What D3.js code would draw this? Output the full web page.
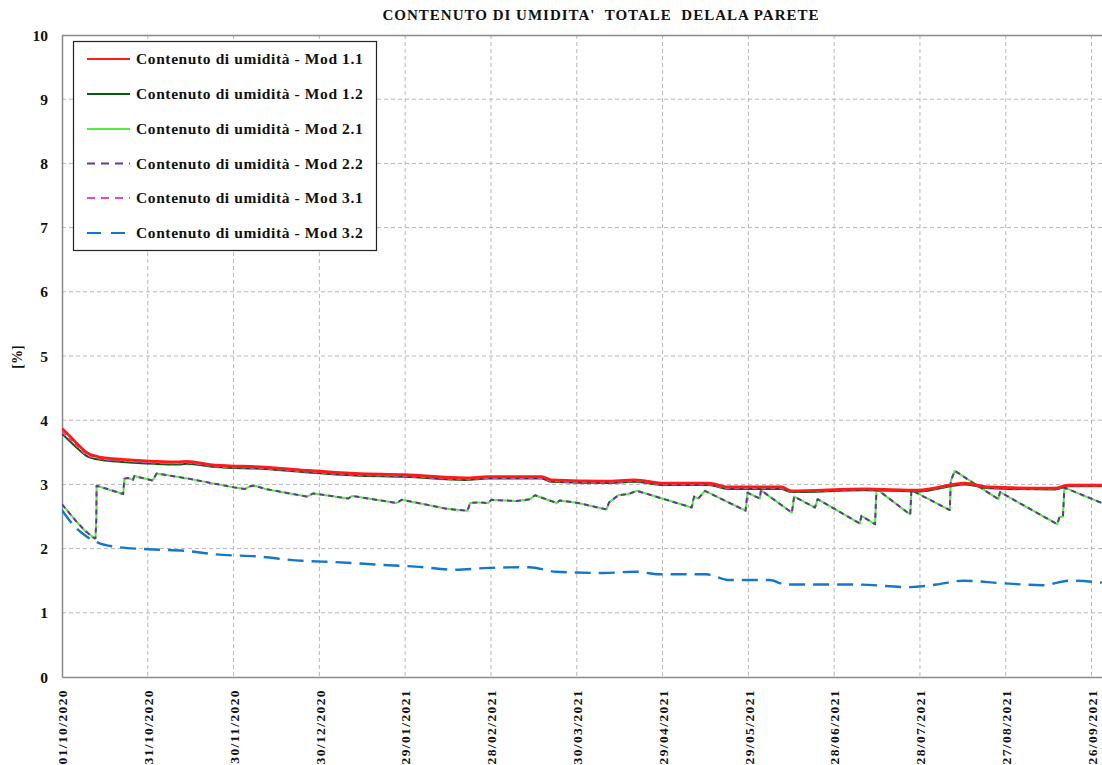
<!DOCTYPE html>
<html>
<head>
<meta charset="utf-8">
<script src="https://cdn.jsdelivr.net/npm/d3@7"></script>
<style>
  html, body { margin: 0; padding: 0; background: #fff; }
  svg { display: block; }
  text { font-family: "Liberation Serif", "Times New Roman", serif; font-weight: bold; fill: #111; }
</style>
</head>
<body>
<svg id="chart" width="1102" height="765"></svg>
<script>
// Days elapsed since 01/10/2020 paired with total moisture content [%]
const mod11 = [[0,3.87],[2.1,3.78],[4.5,3.67],[9.2,3.48],[13.9,3.42],[20.9,3.39],[32.5,3.36],[40.6,3.35],[43.6,3.36],[53.5,3.30],[71,3.27],[85,3.22],[102.4,3.17],[120,3.15],[141,3.10],[149,3.12],[167.7,3.12],[171.2,3.07],[190,3.05],[200.3,3.07],[210.8,3.02],[226,3.02],[233,2.96],[251.6,2.96],[255,2.90],[280.8,2.93],[299.4,2.91],[315.7,3.02],[324,2.96],[347.2,2.94],[351.9,2.99],[363.6,2.99]];

const mod12 = [[0,3.79],[2.1,3.70],[4.5,3.60],[9.2,3.43],[13.9,3.38],[20.9,3.35],[32.5,3.32],[40.6,3.31],[43.6,3.32],[53.5,3.27],[71,3.24],[85,3.19],[102.4,3.14],[120,3.12],[141,3.07],[149,3.09],[167.7,3.09],[171.2,3.04],[190,3.02],[200.3,3.04],[210.8,2.99],[226,2.99],[233,2.93],[251.6,2.93],[255,2.88],[280.8,2.91],[299.4,2.89],[315.7,3.00],[324,2.94],[347.2,2.92],[351.9,2.97],[363.6,2.97]];

const mod21 = [[0,2.69],[4.5,2.45],[8,2.28],[11.3,2.16],[11.7,2.16],[12,2.45],[12.1,2.98],[21.4,2.85],[21.8,3.09],[23,3.10],[24.8,3.07],[25.3,3.13],[31.7,3.06],[33.1,3.17],[44.2,3.09],[60.5,2.95],[64,2.93],[65.7,2.97],[67.5,2.98],[71,2.93],[85.6,2.81],[87.9,2.86],[100.1,2.78],[101.5,2.82],[117,2.71],[118.8,2.76],[134.5,2.62],[141.8,2.59],[142.7,2.71],[145.3,2.72],[149,2.71],[150.2,2.76],[159,2.74],[163.6,2.77],[165.4,2.83],[173,2.71],[174,2.75],[180.5,2.71],[190.4,2.61],[191.3,2.72],[194.5,2.83],[198,2.85],[201,2.90],[220.2,2.64],[221,2.81],[222.5,2.78],[224.8,2.90],[239,2.59],[239.7,2.87],[244,2.78],[244.4,2.91],[255.2,2.56],[256,2.81],[263.3,2.64],[264.2,2.77],[279,2.39],[279.5,2.51],[284.3,2.38],[284.8,2.93],[296.6,2.53],[297,2.91],[310.4,2.60],[310.8,3.06],[312.2,3.21],[327.4,2.77],[328,2.88],[348,2.38],[348.8,2.49],[350,2.50],[350.5,2.95],[363.6,2.71]];

const mod22 = [[0,2.69],[4.5,2.45],[8,2.28],[11.3,2.16],[11.7,2.16],[12,2.45],[12.1,2.98],[21.4,2.85],[21.8,3.09],[23,3.10],[24.8,3.07],[25.3,3.13],[31.7,3.06],[33.1,3.17],[44.2,3.09],[60.5,2.95],[64,2.93],[65.7,2.97],[67.5,2.98],[71,2.93],[85.6,2.81],[87.9,2.86],[100.1,2.78],[101.5,2.82],[117,2.71],[118.8,2.76],[134.5,2.62],[141.8,2.59],[142.7,2.71],[145.3,2.72],[149,2.71],[150.2,2.76],[159,2.74],[163.6,2.77],[165.4,2.83],[173,2.71],[174,2.75],[180.5,2.71],[190.4,2.61],[191.3,2.72],[194.5,2.83],[198,2.85],[201,2.90],[220.2,2.64],[221,2.81],[222.5,2.78],[224.8,2.90],[239,2.59],[239.7,2.87],[244,2.78],[244.4,2.91],[255.2,2.56],[256,2.81],[263.3,2.64],[264.2,2.77],[279,2.39],[279.5,2.51],[284.3,2.38],[284.8,2.93],[296.6,2.53],[297,2.91],[310.4,2.60],[310.8,3.06],[312.2,3.21],[327.4,2.77],[328,2.88],[348,2.38],[348.8,2.49],[350,2.50],[350.5,2.95],[363.6,2.71]];

const mod31 = [[0,3.82],[2.1,3.73],[4.5,3.63],[9.2,3.45],[13.9,3.40],[20.9,3.37],[32.5,3.34],[40.6,3.33],[43.6,3.34],[53.5,3.28],[71,3.25],[85,3.20],[102.4,3.15],[120,3.13],[141,3.08],[149,3.10],[167.7,3.10],[171.2,3.05],[190,3.03],[200.3,3.05],[210.8,3.00],[226,3.00],[233,2.94],[251.6,2.94],[255,2.89],[280.8,2.92],[299.4,2.90],[315.7,3.01],[324,2.95],[347.2,2.93],[351.9,2.98],[363.6,2.98]];

const mod32 = [[0,2.60],[4.5,2.34],[9.2,2.17],[12.7,2.09],[18.5,2.03],[30.2,1.99],[44.2,1.96],[53.6,1.91],[67.6,1.88],[83.9,1.81],[95.6,1.79],[114.3,1.74],[123.6,1.72],[137.6,1.67],[149.3,1.70],[163.3,1.71],[172.7,1.64],[189,1.62],[200.7,1.64],[208.8,1.60],[225.2,1.60],[233.4,1.51],[247.4,1.51],[253.1,1.44],[277.7,1.44],[296.4,1.40],[305.7,1.44],[315,1.50],[329,1.46],[343,1.43],[352.4,1.50],[363.6,1.47]];

const seriesNames = [
  "Contenuto di umidità - Mod 1.1",
  "Contenuto di umidità - Mod 1.2",
  "Contenuto di umidità - Mod 2.1",
  "Contenuto di umidità - Mod 2.2",
  "Contenuto di umidità - Mod 3.1",
  "Contenuto di umidità - Mod 3.2"
];
const tickDays = [0, 30, 60, 90, 120, 150, 180, 210, 240, 270, 300, 330, 360];
const yTicks = [0, 1, 2, 3, 4, 5, 6, 7, 8, 9, 10];
const titleText = "CONTENUTO DI UMIDITA'\u00A0 TOTALE\u00A0 DELALA PARETE";
const yLabel = "[%]";

// Styles per series (smooth curves for the slowly varying ones, straight
// segments for the saw-tooth ones)
const styles = [
  { data: mod11, color: "#ff1a1a", width: 2.8, dash: null, smooth: true },
  { data: mod12, color: "#0d5a12", width: 2.0, dash: null, smooth: true },
  { data: mod21, color: "#4cf03c", width: 2.0, dash: null, smooth: false },
  { data: mod22, color: "#7030a0", width: 2.0, dash: "5,4", smooth: false },
  { data: mod31, color: "#e048c4", width: 2.0, dash: "5,4", smooth: true },
  { data: mod32, color: "#1477c9", width: 2.4, dash: "16,8", smooth: true }
];

const startMs = Date.UTC(2020, 9, 1);
const toDate = d => new Date(startMs + d * 864e5);

const svg = d3.select("#chart");
const m = { left: 62, top: 35, right: 1103, bottom: 677 };

const x = d3.scaleUtc()
  .domain([toDate(0), toDate(364)])
  .range([m.left, m.right]);
const y = d3.scaleLinear()
  .domain([0, 10])
  .range([m.bottom, m.top]);

// Title
svg.append("text")
  .attr("x", 601).attr("y", 20)
  .attr("text-anchor", "middle")
  .style("font-size", "15px")
  .style("letter-spacing", "1px")
  .text(titleText);

// Grid
const grid = svg.append("g");
grid.selectAll("line.h").data(yTicks.filter(v => v > 0 && v < 10)).join("line")
  .attr("x1", m.left).attr("x2", m.right)
  .attr("y1", d => y(d)).attr("y2", d => y(d))
  .attr("stroke", "#b8b8b8").attr("stroke-width", 1).attr("stroke-dasharray", "4,3");
grid.selectAll("line.v").data(tickDays.filter(d => d > 0)).join("line")
  .attr("x1", d => x(toDate(d))).attr("x2", d => x(toDate(d)))
  .attr("y1", m.top).attr("y2", m.bottom)
  .attr("stroke", "#b8b8b8").attr("stroke-width", 1).attr("stroke-dasharray", "4,3");

// Frame
svg.append("line").attr("x1", m.left).attr("x2", m.right).attr("y1", m.top + 0.5).attr("y2", m.top + 0.5)
  .attr("stroke", "#8a8a8a").attr("stroke-width", 1.5);

// Axes
const yAxis = d3.axisLeft(y).tickValues(yTicks).tickSize(0).tickPadding(14).tickFormat(d3.format("d"));
svg.append("g").attr("transform", `translate(${m.left},0)`).call(yAxis)
  .call(g => g.select(".domain").attr("stroke", "#8a8a8a").attr("stroke-width", 1.5))
  .call(g => g.selectAll("text").style("font-size", "15.5px").style("font-family", "'Liberation Serif', serif").style("font-weight", "bold").attr("dy", "0.33em"));

const xAxis = d3.axisBottom(x)
  .tickValues(tickDays.map(toDate))
  .tickSize(0)
  .tickFormat(d3.utcFormat("%d/%m/%Y"));
svg.append("g").attr("transform", `translate(0,${m.bottom})`).call(xAxis)
  .call(g => g.select(".domain").attr("stroke", "#8a8a8a").attr("stroke-width", 1.5))
  .call(g => g.selectAll("text")
    .attr("transform", "rotate(-90)")
    .attr("x", -12).attr("y", 0).attr("dy", "0.35em")
    .attr("text-anchor", "end")
    .style("font-size", "13.5px")
    .style("letter-spacing", "1.4px")
    .style("font-family", "'Liberation Serif', serif")
    .style("font-weight", "bold"));

// Y label
svg.append("text")
  .attr("transform", "translate(22,357) rotate(-90)")
  .attr("text-anchor", "middle")
  .style("font-size", "14px")
  .text(yLabel);

// Lines
svg.append("clipPath").attr("id", "plotclip")
  .append("rect").attr("x", m.left).attr("y", m.top).attr("width", m.right - m.left).attr("height", m.bottom - m.top);

const lineSmooth = d3.line()
  .x(p => x(toDate(p[0])))
  .y(p => y(p[1]))
  .curve(d3.curveMonotoneX);
const lineStraight = d3.line()
  .x(p => x(toDate(p[0])))
  .y(p => y(p[1]));

const drawOrder = [5, 2, 3, 1, 4, 0];
const plot = svg.append("g").attr("clip-path", "url(#plotclip)");
drawOrder.forEach(i => {
  const s = styles[i];
  plot.append("path")
    .datum(s.data)
    .attr("d", s.smooth ? lineSmooth : lineStraight)
    .attr("fill", "none")
    .attr("stroke", s.color)
    .attr("stroke-width", s.width)
    .attr("stroke-linejoin", "round")
    .attr("stroke-dasharray", s.dash);
});

// Legend
const lg = svg.append("g");
lg.append("rect")
  .attr("x", 73.5).attr("y", 41.5).attr("width", 303).attr("height", 209)
  .attr("fill", "#fff").attr("stroke", "#222").attr("stroke-width", 1.2);
const legendY = [59, 94, 129, 163.5, 198, 233];
seriesNames.forEach((name, i) => {
  const s = styles[i];
  lg.append("line")
    .attr("x1", 87).attr("x2", 130)
    .attr("y1", legendY[i]).attr("y2", legendY[i])
    .attr("stroke", s.color)
    .attr("stroke-width", i === 0 ? 2.2 : 2)
    .attr("stroke-dasharray", s.dash ? (i === 5 ? "14,10" : "8,6") : null);
  lg.append("text")
    .attr("x", 136).attr("y", legendY[i]).attr("dy", "0.35em")
    .style("font-size", "15.5px")
    .style("letter-spacing", "0.6px")
    .text(name);
});
</script>
</body>
</html>
